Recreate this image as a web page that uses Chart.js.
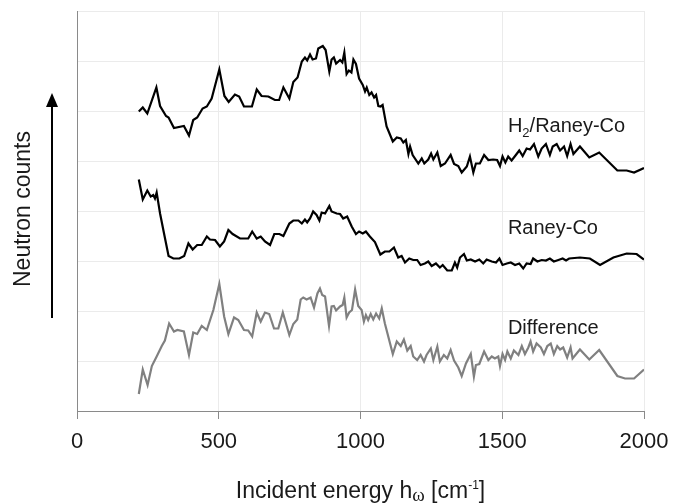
<!DOCTYPE html>
<html>
<head>
<meta charset="utf-8">
<script src="https://cdn.jsdelivr.net/npm/chart.js@4.4.0/dist/chart.umd.min.js"></script>
<style>
  html, body { margin: 0; padding: 0; background: #fff; }
  #wrap { width: 674px; height: 504px; }
</style>
</head>
<body>
<div id="wrap"><canvas id="spectra" width="674" height="504"></canvas></div>
<script>
// INS spectra, energies in cm-1, counts offset per curve (arbitrary units)
const h2Energy = [218,232,248,280,293,314,323,342,377,395,
  410,424,443,458,475,502,520,535,557,572,
  589,617,634,651,675,698,713,728,749,763,
  778,793,804,812,822,831,843,851,867,877,
  890,898,906,914,928,936,943,951,959,968,
  975,984,995,1008,1016,1022,1031,1039,1048,1055,
  1063,1071,1078,1092,1114,1128,1142,1151,1160,1169,
  1175,1184,1204,1216,1225,1239,1249,1257,1271,1283,
  1298,1318,1330,1345,1357,1375,1386,1398,1407,1421,
  1436,1451,1468,1482,1492,1501,1511,1521,1533,1548,
  1560,1572,1586,1598,1612,1627,1639,1654,1668,1678,
  1692,1704,1718,1729,1741,1751,1774,1807,1842,1906,
  1939,1965,2000];
const h2Counts = [5.99,6.07,5.95,6.47,6.10,5.90,5.87,5.66,5.70,5.51,
  5.82,5.87,6.05,6.09,6.25,6.83,6.30,6.18,6.33,6.29,
  6.09,6.09,6.43,6.30,6.29,6.22,6.22,6.47,6.25,6.58,
  6.67,6.99,7.07,7.01,7.13,7.03,7.05,7.25,7.30,7.22,
  6.79,7.03,7.07,6.95,7.02,6.97,7.17,6.74,6.81,6.77,
  7.03,6.94,6.65,6.52,6.39,6.47,6.32,6.37,6.27,6.32,
  6.10,6.09,6.12,5.69,5.39,5.47,5.45,5.37,5.42,5.14,
  5.29,5.12,4.95,5.05,4.95,5.03,5.15,5.03,5.17,4.90,
  4.95,5.12,4.94,4.90,4.77,4.89,5.09,4.77,4.95,4.95,
  5.12,5.02,5.03,5.02,4.90,5.09,4.97,5.09,5.01,5.12,
  5.21,5.10,5.25,5.23,5.34,5.09,5.25,5.34,5.12,5.29,
  5.34,5.21,5.29,5.10,5.34,5.14,5.29,5.07,5.17,4.81,
  4.81,4.77,4.86];

const raneyEnergy = [218,232,248,260,269,275,281,293,307,323,
  340,361,378,393,408,424,440,458,469,487,
  504,519,534,549,575,604,618,634,648,663,
  681,696,714,728,749,763,781,793,804,812,
  822,833,845,855,863,875,890,898,916,928,
  939,953,969,984,995,1008,1019,1033,1051,1070,
  1086,1102,1118,1133,1145,1157,1172,1186,1200,1212,
  1227,1239,1251,1266,1280,1290,1306,1322,1333,1341,
  1351,1365,1375,1389,1404,1419,1433,1445,1463,1478,
  1490,1501,1516,1530,1545,1560,1574,1586,1600,1609,
  1624,1639,1654,1668,1682,1698,1713,1725,1736,1774,
  1809,1845,1892,1939,1974,2000];
const raneyCounts = [4.63,4.23,4.41,4.29,4.32,4.25,4.37,3.95,3.55,3.10,
  3.05,3.05,3.10,3.35,3.23,3.32,3.32,3.49,3.43,3.42,
  3.29,3.39,3.62,3.54,3.45,3.45,3.59,3.45,3.49,3.39,
  3.32,3.54,3.54,3.50,3.75,3.81,3.81,3.75,3.83,3.77,
  3.85,3.99,3.92,3.81,3.97,3.95,4.10,3.99,3.95,3.94,
  3.85,3.89,3.69,3.54,3.59,3.55,3.59,3.49,3.38,3.13,
  3.19,3.19,3.27,3.07,3.10,2.97,3.05,3.02,3.02,2.92,
  2.95,2.99,2.90,2.95,2.87,2.92,2.81,2.81,2.97,2.87,
  3.07,3.14,3.01,3.03,2.99,3.03,2.95,3.03,2.99,2.97,
  3.05,2.92,2.95,2.97,2.92,2.95,2.85,2.95,2.94,3.05,
  2.99,3.02,3.01,3.05,2.99,3.02,3.05,3.01,3.05,3.07,
  3.05,2.92,3.07,3.15,3.14,3.03];

const diffEnergy = [218,232,249,264,281,299,310,325,342,354,
  377,395,410,424,440,458,481,502,519,534,
  554,569,589,604,618,634,648,663,678,695,
  710,726,749,763,777,789,798,810,824,836,
  848,857,865,875,889,898,906,914,928,937,
  943,951,960,970,981,992,1004,1012,1019,1027,
  1036,1045,1055,1066,1075,1086,1114,1128,1142,1153,
  1165,1177,1186,1200,1212,1224,1233,1248,1257,1271,
  1280,1294,1306,1318,1330,1345,1357,1372,1389,1400,
  1407,1419,1436,1451,1463,1474,1486,1492,1501,1510,
  1518,1530,1541,1557,1569,1580,1592,1600,1609,1621,
  1636,1647,1659,1671,1682,1694,1704,1715,1729,1741,
  1748,1774,1807,1842,1906,1933,1965,2000];
const diffCounts = [0.34,0.83,0.52,0.90,1.09,1.30,1.41,1.75,1.59,1.62,
  1.59,1.12,1.57,1.54,1.70,1.62,2.02,2.54,1.89,1.54,
  1.87,1.82,1.62,1.61,1.49,1.97,1.79,1.97,1.94,1.65,
  1.65,1.97,1.52,1.74,1.83,2.23,2.27,2.23,2.27,2.07,
  2.35,2.45,2.32,2.29,1.70,2.09,2.10,2.01,2.09,2.12,
  2.27,1.87,1.97,2.02,2.43,2.10,2.02,1.79,1.92,1.82,
  1.94,1.83,1.95,1.85,2.05,1.75,1.14,1.39,1.30,1.43,
  1.21,1.30,1.09,1.02,1.12,0.99,1.12,1.25,1.02,1.29,
  0.99,1.12,1.05,1.22,1.01,0.87,0.70,0.95,1.14,0.69,
  0.92,0.94,1.19,1.02,1.09,1.05,1.09,0.90,1.14,1.02,
  1.19,1.05,1.21,1.12,1.30,1.14,1.27,1.39,1.19,1.35,
  1.27,1.14,1.30,1.35,1.14,1.30,1.23,1.27,1.07,1.27,
  1.05,1.23,1.03,1.22,0.70,0.65,0.65,0.83];

const xTicks = [0, 500, 1000, 1500, 2000];

const FONT = '"Liberation Sans", Arial, sans-serif';
const INK = '#1a1a1a';

function toPoints(xs, ys) {
  return xs.map((x, i) => ({ x: x, y: ys[i] }));
}

// curve captions: pieces of text with optional sub/superscript
const captions = [
  { at: [1520, 5.58], parts: [['H', 20, 0], ['2', 13, 5], ['/Raney-Co', 20, 0]] },
  { at: [1520, 3.54], parts: [['Raney-Co', 20, 0]] },
  { at: [1520, 1.54], parts: [['Difference', 20, 0]] }
];

function drawParts(ctx, parts, x, y, center) {
  let w = 0;
  parts.forEach(p => {
    ctx.font = (p[3] || '') + p[1] + 'px ' + (p[4] || FONT);
    w += ctx.measureText(p[0]).width;
  });
  let cx = center ? x - w / 2 : x;
  parts.forEach(p => {
    ctx.font = (p[3] || '') + p[1] + 'px ' + (p[4] || FONT);
    ctx.fillText(p[0], cx, y + p[2]);
    cx += ctx.measureText(p[0]).width;
  });
}

const annotations = {
  id: 'annotations',
  afterDraw(chart) {
    const ctx = chart.ctx;
    const area = chart.chartArea;
    const xs = chart.scales.x, ys = chart.scales.y;
    ctx.save();
    ctx.fillStyle = INK;
    ctx.textBaseline = 'alphabetic';
    ctx.textAlign = 'left';

    captions.forEach(c => {
      drawParts(ctx, c.parts, xs.getPixelForValue(c.at[0]), ys.getPixelForValue(c.at[1]), false);
    });

    // x axis title
    drawParts(ctx, [
      ['Incident energy h', 23, 0],
      ['\u03c9', 19, 3, '', '"Liberation Serif", serif'],
      [' [cm', 23, 0],
      ['-1', 12, -9],
      [']', 23, 0]
    ], (area.left + area.right) / 2, 498, true);

    // y axis title, rotated
    ctx.save();
    ctx.translate(30, 209);
    ctx.rotate(-Math.PI / 2);
    ctx.textAlign = 'center';
    ctx.font = '23px ' + FONT;
    ctx.fillText('Neutron counts', 0, 0);
    ctx.restore();

    // upward arrow beside the axis
    const ax = area.left - 25;
    ctx.strokeStyle = '#000';
    ctx.lineWidth = 2;
    ctx.beginPath();
    ctx.moveTo(ax, 318);
    ctx.lineTo(ax, 104);
    ctx.stroke();
    ctx.fillStyle = '#000';
    ctx.beginPath();
    ctx.moveTo(ax, 93);
    ctx.lineTo(ax - 6, 107);
    ctx.lineTo(ax + 6, 107);
    ctx.closePath();
    ctx.fill();
    ctx.restore();
  }
};

new Chart(document.getElementById('spectra'), {
  type: 'line',
  data: {
    datasets: [
      { label: 'H2/Raney-Co', data: toPoints(h2Energy, h2Counts), borderColor: '#000', borderWidth: 2.2 },
      { label: 'Raney-Co', data: toPoints(raneyEnergy, raneyCounts), borderColor: '#000', borderWidth: 2.2 },
      { label: 'Difference', data: toPoints(diffEnergy, diffCounts), borderColor: '#808080', borderWidth: 2.2 }
    ]
  },
  options: {
    responsive: false,
    animation: false,
    layout: { padding: { top: 11, right: 30, left: 0, bottom: 0 } },
    elements: { point: { radius: 0 }, line: { tension: 0, fill: false } },
    plugins: { legend: { display: false }, tooltip: { enabled: false } },
    scales: {
      x: {
        type: 'linear',
        min: 0,
        max: 2000,
        afterBuildTicks: s => { s.ticks = xTicks.map(v => ({ value: v })); },
        afterFit: s => {
          s.height = 93;
          s.paddingLeft = 0;
          s.paddingRight = 0;
        },
        ticks: {
          color: INK,
          font: { family: FONT, size: 22 },
          padding: 10,
          maxRotation: 0,
          callback: v => String(v)
        },
        grid: { color: '#ebebeb', tickColor: '#8a8a8a', tickLength: 8 },
        border: { color: '#8a8a8a' }
      },
      y: {
        min: 0,
        max: 8,
        afterFit: s => { s.width = 77; },
        ticks: { stepSize: 1, display: false },
        grid: { color: '#ebebeb', drawTicks: false },
        border: { color: '#8a8a8a' }
      }
    }
  },
  plugins: [annotations]
});
</script>
</body>
</html>
